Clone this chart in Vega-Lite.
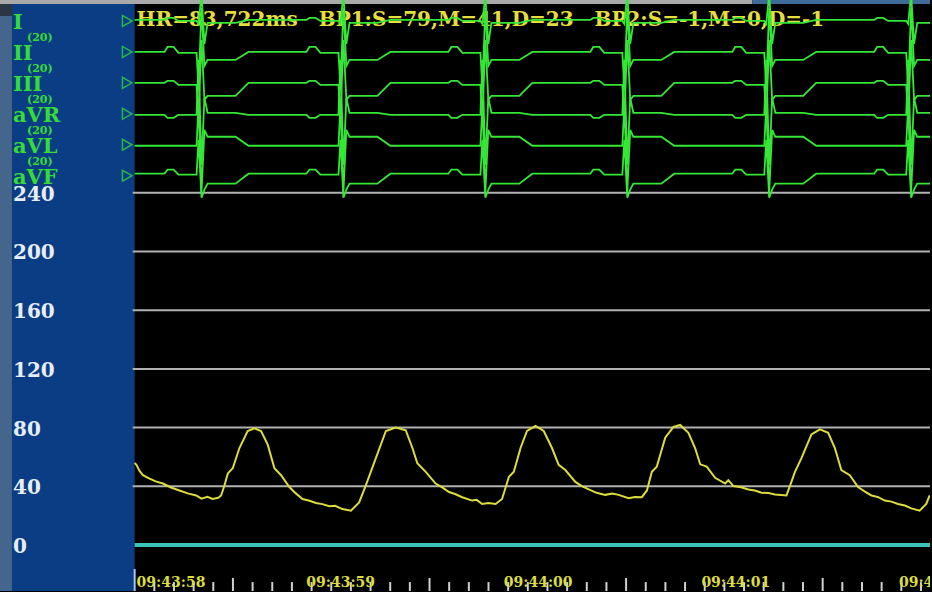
{
"$schema":"https://vega.github.io/schema/vega-lite/v6.json",
"width":932,"height":592,
"autosize":{"type":"fit","contains":"padding"},
"padding":0,
"background":"#000000",
"config":{"view":{"stroke":null},"axis":{"disable":true}},
"datasets":{
"ecg":[
{"t":0,"I":0.05,"II":0,"III":0,"aVR":-0.05,"aVL":-0.05,"aVF":0.1},
{"t":152,"I":0.05,"II":0,"III":0,"aVR":-0.05,"aVL":-0.05,"aVF":0.1},
{"t":167,"I":0.15,"II":0.25,"III":0.1,"aVR":-0.2,"aVL":-0.05,"aVF":0.3},
{"t":198,"I":0.15,"II":0.25,"III":0.1,"aVR":-0.2,"aVL":-0.05,"aVF":0.3},
{"t":223,"I":0,"II":-0.05,"III":-0.1,"aVR":-0.05,"aVL":-0.05,"aVF":0.05},
{"t":315,"I":0,"II":-0.05,"III":-0.1,"aVR":-0.05,"aVL":-0.05,"aVF":0.05},
{"t":325,"I":-0.15,"II":-1.8,"III":-1.75,"aVR":2.7,"aVL":2,"aVF":1.8},
{"t":340,"I":1.35,"II":2.2,"III":2.15,"aVR":-2.55,"aVL":-2.35,"aVF":-1.1},
{"t":355,"I":-1.15,"II":-0.7,"III":-0.85,"aVR":0.8,"aVL":0.75,"aVF":-0.7},
{"t":371,"I":-0.1,"II":-0.4,"III":-0.65,"aVR":0.05,"aVL":0.4,"aVF":-0.4},
{"t":513,"I":-0.1,"II":-0.4,"III":-0.65,"aVR":0.05,"aVL":0.4,"aVF":-0.4},
{"t":579,"I":0.05,"II":0,"III":0,"aVR":-0.05,"aVL":-0.05,"aVF":0.1},
{"t":874,"I":0.05,"II":0,"III":0,"aVR":-0.05,"aVL":-0.05,"aVF":0.1},
{"t":889,"I":0.15,"II":0.25,"III":0.1,"aVR":-0.2,"aVL":-0.05,"aVF":0.3},
{"t":920,"I":0.15,"II":0.25,"III":0.1,"aVR":-0.2,"aVL":-0.05,"aVF":0.3},
{"t":945,"I":0,"II":-0.05,"III":-0.1,"aVR":-0.05,"aVL":-0.05,"aVF":0.05},
{"t":1037,"I":0,"II":-0.05,"III":-0.1,"aVR":-0.05,"aVL":-0.05,"aVF":0.05},
{"t":1047,"I":-0.15,"II":-1.8,"III":-1.75,"aVR":2.7,"aVL":2,"aVF":1.8},
{"t":1062,"I":1.35,"II":2.2,"III":2.15,"aVR":-2.55,"aVL":-2.35,"aVF":-1.1},
{"t":1077,"I":-1.15,"II":-0.7,"III":-0.85,"aVR":0.8,"aVL":0.75,"aVF":-0.7},
{"t":1093,"I":-0.1,"II":-0.4,"III":-0.65,"aVR":0.05,"aVL":0.4,"aVF":-0.4},
{"t":1235,"I":-0.1,"II":-0.4,"III":-0.65,"aVR":0.05,"aVL":0.4,"aVF":-0.4},
{"t":1301,"I":0.05,"II":0,"III":0,"aVR":-0.05,"aVL":-0.05,"aVF":0.1},
{"t":1596,"I":0.05,"II":0,"III":0,"aVR":-0.05,"aVL":-0.05,"aVF":0.1},
{"t":1611,"I":0.15,"II":0.25,"III":0.1,"aVR":-0.2,"aVL":-0.05,"aVF":0.3},
{"t":1642,"I":0.15,"II":0.25,"III":0.1,"aVR":-0.2,"aVL":-0.05,"aVF":0.3},
{"t":1667,"I":0,"II":-0.05,"III":-0.1,"aVR":-0.05,"aVL":-0.05,"aVF":0.05},
{"t":1759,"I":0,"II":-0.05,"III":-0.1,"aVR":-0.05,"aVL":-0.05,"aVF":0.05},
{"t":1769,"I":-0.15,"II":-1.8,"III":-1.75,"aVR":2.7,"aVL":2,"aVF":1.8},
{"t":1784,"I":1.35,"II":2.2,"III":2.15,"aVR":-2.55,"aVL":-2.35,"aVF":-1.1},
{"t":1799,"I":-1.15,"II":-0.7,"III":-0.85,"aVR":0.8,"aVL":0.75,"aVF":-0.7},
{"t":1815,"I":-0.1,"II":-0.4,"III":-0.65,"aVR":0.05,"aVL":0.4,"aVF":-0.4},
{"t":1957,"I":-0.1,"II":-0.4,"III":-0.65,"aVR":0.05,"aVL":0.4,"aVF":-0.4},
{"t":2023,"I":0.05,"II":0,"III":0,"aVR":-0.05,"aVL":-0.05,"aVF":0.1},
{"t":2318,"I":0.05,"II":0,"III":0,"aVR":-0.05,"aVL":-0.05,"aVF":0.1},
{"t":2333,"I":0.15,"II":0.25,"III":0.1,"aVR":-0.2,"aVL":-0.05,"aVF":0.3},
{"t":2364,"I":0.15,"II":0.25,"III":0.1,"aVR":-0.2,"aVL":-0.05,"aVF":0.3},
{"t":2389,"I":0,"II":-0.05,"III":-0.1,"aVR":-0.05,"aVL":-0.05,"aVF":0.05},
{"t":2481,"I":0,"II":-0.05,"III":-0.1,"aVR":-0.05,"aVL":-0.05,"aVF":0.05},
{"t":2491,"I":-0.15,"II":-1.8,"III":-1.75,"aVR":2.7,"aVL":2,"aVF":1.8},
{"t":2506,"I":1.35,"II":2.2,"III":2.15,"aVR":-2.55,"aVL":-2.35,"aVF":-1.1},
{"t":2521,"I":-1.15,"II":-0.7,"III":-0.85,"aVR":0.8,"aVL":0.75,"aVF":-0.7},
{"t":2537,"I":-0.1,"II":-0.4,"III":-0.65,"aVR":0.05,"aVL":0.4,"aVF":-0.4},
{"t":2679,"I":-0.1,"II":-0.4,"III":-0.65,"aVR":0.05,"aVL":0.4,"aVF":-0.4},
{"t":2745,"I":0.05,"II":0,"III":0,"aVR":-0.05,"aVL":-0.05,"aVF":0.1},
{"t":3040,"I":0.05,"II":0,"III":0,"aVR":-0.05,"aVL":-0.05,"aVF":0.1},
{"t":3055,"I":0.15,"II":0.25,"III":0.1,"aVR":-0.2,"aVL":-0.05,"aVF":0.3},
{"t":3086,"I":0.15,"II":0.25,"III":0.1,"aVR":-0.2,"aVL":-0.05,"aVF":0.3},
{"t":3111,"I":0,"II":-0.05,"III":-0.1,"aVR":-0.05,"aVL":-0.05,"aVF":0.05},
{"t":3203,"I":0,"II":-0.05,"III":-0.1,"aVR":-0.05,"aVL":-0.05,"aVF":0.05},
{"t":3213,"I":-0.15,"II":-1.8,"III":-1.75,"aVR":2.7,"aVL":2,"aVF":1.8},
{"t":3228,"I":1.35,"II":2.2,"III":2.15,"aVR":-2.55,"aVL":-2.35,"aVF":-1.1},
{"t":3243,"I":-1.15,"II":-0.7,"III":-0.85,"aVR":0.8,"aVL":0.75,"aVF":-0.7},
{"t":3259,"I":-0.1,"II":-0.4,"III":-0.65,"aVR":0.05,"aVL":0.4,"aVF":-0.4},
{"t":3401,"I":-0.1,"II":-0.4,"III":-0.65,"aVR":0.05,"aVL":0.4,"aVF":-0.4},
{"t":3467,"I":0.05,"II":0,"III":0,"aVR":-0.05,"aVL":-0.05,"aVF":0.1},
{"t":3762,"I":0.05,"II":0,"III":0,"aVR":-0.05,"aVL":-0.05,"aVF":0.1},
{"t":3777,"I":0.15,"II":0.25,"III":0.1,"aVR":-0.2,"aVL":-0.05,"aVF":0.3},
{"t":3808,"I":0.15,"II":0.25,"III":0.1,"aVR":-0.2,"aVL":-0.05,"aVF":0.3},
{"t":3833,"I":0,"II":-0.05,"III":-0.1,"aVR":-0.05,"aVL":-0.05,"aVF":0.05},
{"t":3925,"I":0,"II":-0.05,"III":-0.1,"aVR":-0.05,"aVL":-0.05,"aVF":0.05},
{"t":3935,"I":-0.15,"II":-1.8,"III":-1.75,"aVR":2.7,"aVL":2,"aVF":1.8},
{"t":3950,"I":1.35,"II":2.2,"III":2.15,"aVR":-2.55,"aVL":-2.35,"aVF":-1.1},
{"t":3965,"I":-1.15,"II":-0.7,"III":-0.85,"aVR":0.8,"aVL":0.75,"aVF":-0.7},
{"t":3981,"I":-0.1,"II":-0.4,"III":-0.65,"aVR":0.05,"aVL":0.4,"aVF":-0.4},
{"t":4060,"I":-0.1,"II":-0.4,"III":-0.65,"aVR":0.05,"aVL":0.4,"aVF":-0.4}
],
"bp":[{"t":0,"p":56},{"t":9,"p":54.6},{"t":25,"p":50.5},{"t":42,"p":47.6},{"t":76,"p":45.3},{"t":110,"p":43.2},{"t":144,"p":41.9},{"t":185,"p":39.2},{"t":228,"p":37.2},{"t":270,"p":35.2},{"t":313,"p":33.8},{"t":340,"p":31.6},{"t":370,"p":32.8},{"t":397,"p":31.4},{"t":425,"p":32.2},{"t":440,"p":33.8},{"t":457,"p":40.7},{"t":474,"p":48.8},{"t":499,"p":52.3},{"t":533,"p":66.1},{"t":575,"p":77.7},{"t":609,"p":79.5},{"t":643,"p":77.7},{"t":677,"p":68.4},{"t":711,"p":52.3},{"t":745,"p":47.6},{"t":787,"p":39.5},{"t":820,"p":35.2},{"t":854,"p":31.4},{"t":890,"p":30.2},{"t":922,"p":28.7},{"t":955,"p":27.9},{"t":990,"p":26.4},{"t":1020,"p":26.8},{"t":1057,"p":24.5},{"t":1100,"p":23.4},{"t":1142,"p":29.1},{"t":1176,"p":40.7},{"t":1227,"p":59.2},{"t":1278,"p":77.7},{"t":1328,"p":80},{"t":1379,"p":78.2},{"t":1413,"p":66.1},{"t":1438,"p":55.7},{"t":1481,"p":49.9},{"t":1531,"p":41.9},{"t":1565,"p":39.3},{"t":1599,"p":36.1},{"t":1630,"p":34.8},{"t":1666,"p":32.6},{"t":1717,"p":30.3},{"t":1740,"p":30.8},{"t":1768,"p":28},{"t":1800,"p":28.6},{"t":1836,"p":28},{"t":1869,"p":31.4},{"t":1904,"p":46.5},{"t":1929,"p":49.9},{"t":1963,"p":66.1},{"t":1996,"p":77.7},{"t":2039,"p":81.2},{"t":2081,"p":77.7},{"t":2123,"p":66.1},{"t":2157,"p":54.6},{"t":2191,"p":51.1},{"t":2242,"p":43},{"t":2275,"p":40.1},{"t":2310,"p":37.9},{"t":2350,"p":35.6},{"t":2394,"p":34.2},{"t":2430,"p":35.1},{"t":2462,"p":34.2},{"t":2513,"p":31.9},{"t":2545,"p":32.8},{"t":2580,"p":32.6},{"t":2606,"p":37.2},{"t":2631,"p":49.9},{"t":2656,"p":53.4},{"t":2699,"p":73.1},{"t":2741,"p":80.5},{"t":2775,"p":81.8},{"t":2817,"p":76.5},{"t":2851,"p":66.1},{"t":2877,"p":55},{"t":2910,"p":53.4},{"t":2953,"p":45.8},{"t":3004,"p":41.9},{"t":3020,"p":44.2},{"t":3046,"p":40.2},{"t":3085,"p":39.4},{"t":3122,"p":37.9},{"t":3155,"p":37.2},{"t":3189,"p":35.6},{"t":3225,"p":35.4},{"t":3257,"p":34.5},{"t":3316,"p":33.8},{"t":3341,"p":43},{"t":3359,"p":49.9},{"t":3392,"p":59.2},{"t":3443,"p":75.4},{"t":3486,"p":78.8},{"t":3528,"p":76.5},{"t":3562,"p":66.1},{"t":3595,"p":51.1},{"t":3638,"p":47.6},{"t":3680,"p":39.5},{"t":3715,"p":36.4},{"t":3748,"p":33.8},{"t":3780,"p":32.8},{"t":3816,"p":30.3},{"t":3850,"p":29.6},{"t":3883,"p":28},{"t":3918,"p":26.9},{"t":3951,"p":25},{"t":3993,"p":23.4},{"t":4027,"p":28},{"t":4044,"p":33.8}],
"grid":[{"v":40},{"v":80},{"v":120},{"v":160},{"v":200},{"v":240}],
"ylab":[{"v":0},{"v":40},{"v":80},{"v":120},{"v":160},{"v":200},{"v":240}],
"ticks":[{"t":0,"kind":"start"},{"t":100,"kind":"minor"},{"t":200,"kind":"minor"},{"t":300,"kind":"minor"},{"t":400,"kind":"minor"},{"t":500,"kind":"major"},{"t":600,"kind":"minor"},{"t":700,"kind":"minor"},{"t":800,"kind":"minor"},{"t":900,"kind":"minor"},{"t":1000,"kind":"minor"},{"t":1100,"kind":"minor"},{"t":1200,"kind":"minor"},{"t":1300,"kind":"minor"},{"t":1400,"kind":"minor"},{"t":1500,"kind":"major"},{"t":1600,"kind":"minor"},{"t":1700,"kind":"minor"},{"t":1800,"kind":"minor"},{"t":1900,"kind":"minor"},{"t":2000,"kind":"minor"},{"t":2100,"kind":"minor"},{"t":2200,"kind":"minor"},{"t":2300,"kind":"minor"},{"t":2400,"kind":"minor"},{"t":2500,"kind":"major"},{"t":2600,"kind":"minor"},{"t":2700,"kind":"minor"},{"t":2800,"kind":"minor"},{"t":2900,"kind":"minor"},{"t":3000,"kind":"minor"},{"t":3100,"kind":"minor"},{"t":3200,"kind":"minor"},{"t":3300,"kind":"minor"},{"t":3400,"kind":"minor"},{"t":3500,"kind":"major"},{"t":3600,"kind":"minor"},{"t":3700,"kind":"minor"},{"t":3800,"kind":"minor"},{"t":3900,"kind":"minor"},{"t":4000,"kind":"minor"}],
"times":[{"t":10,"label":"09:43:58"},{"t":873,"label":"09:43:59"},{"t":1878,"label":"09:44:00"},{"t":2883,"label":"09:44:01"},{"t":3888,"label":"09:44:02"}]
},
"layer":[
{"layer":[
{"data":{"values":[{}]},"mark":{"type":"rect","color":"#44668c"},"encoding":{"x":{"datum":-685,"type":"quantitative","scale":{"domain":[-685,4046],"nice":false,"zero":false}},"x2":{"datum":-624}}},
{"data":{"values":[{}]},"mark":{"type":"rect","color":"#2c3542"},"encoding":{"x":{"datum":-685,"type":"quantitative"},"x2":{"datum":-624},"y":{"datum":360.35,"type":"quantitative","scale":{"domain":[-31.28,371.23],"nice":false,"zero":false}},"y2":{"datum":371.23}}},
{"data":{"values":[{}]},"mark":{"type":"rect","color":"#0b3d84"},"encoding":{"x":{"datum":-624,"type":"quantitative"},"x2":{"datum":0}}},
{"data":{"values":[{}]},"mark":{"type":"rect","color":"#a9a9a9"},"encoding":{"x":{"datum":-685,"type":"quantitative"},"x2":{"datum":3142},"y":{"datum":368.5,"type":"quantitative"},"y2":{"datum":371.23}}},
{"data":{"values":[{}]},"mark":{"type":"rect","color":"#3f6b98"},"encoding":{"x":{"datum":3142,"type":"quantitative"},"x2":{"datum":4046},"y":{"datum":368.5,"type":"quantitative"},"y2":{"datum":371.23}}},
{"data":{"name":"grid"},"mark":{"type":"rule","color":"#b2b2b2","strokeWidth":2},"encoding":{"x":{"datum":-10,"type":"quantitative"},"x2":{"datum":4046},"y":{"field":"v","type":"quantitative","axis":null,"scale":{"domain":[-31.28,371.23],"nice":false,"zero":false}}}},
{"data":{"values":[{}]},"mark":{"type":"rule","color":"#3cc4bb","strokeWidth":4},"encoding":{"x":{"datum":0,"type":"quantitative"},"x2":{"datum":4046},"y":{"datum":0,"type":"quantitative"}}},
{"data":{"name":"ylab"},"mark":{"type":"text","align":"left","baseline":"middle","dy":2,"font":"DejaVu Serif","fontWeight":"bold","fontSize":20,"color":"#e6edf7"},"encoding":{"x":{"datum":-619,"type":"quantitative"},"y":{"field":"v","type":"quantitative"},"text":{"field":"v","type":"quantitative"}}},
{"data":{"name":"bp"},"mark":{"type":"line","color":"#dcdc3a","strokeWidth":2,"clip":true},"encoding":{"x":{"field":"t","type":"quantitative","scale":{"domain":[-685,4046],"nice":false,"zero":false}},"y":{"field":"p","type":"quantitative","scale":{"domain":[-31.28,371.23],"nice":false,"zero":false}}}},
{"data":{"name":"ticks"},"transform":[{"filter":"datum.kind=='minor'"}],"mark":{"type":"rule","color":"#d0d0d0","strokeWidth":2},"encoding":{"x":{"field":"t","type":"quantitative"},"y":{"datum":-25.2,"type":"quantitative"},"y2":{"datum":-31.28}}},
{"data":{"name":"ticks"},"transform":[{"filter":"datum.kind=='major'"}],"mark":{"type":"rule","color":"#d0d0d0","strokeWidth":2},"encoding":{"x":{"field":"t","type":"quantitative"},"y":{"datum":-22.4,"type":"quantitative"},"y2":{"datum":-31.28}}},
{"data":{"name":"ticks"},"transform":[{"filter":"datum.kind=='start'"}],"mark":{"type":"rule","color":"#a8c4f0","strokeWidth":2},"encoding":{"x":{"field":"t","type":"quantitative"},"y":{"datum":-16.3,"type":"quantitative"},"y2":{"datum":-31.28}}},
{"data":{"name":"times"},"mark":{"type":"text","align":"left","baseline":"alphabetic","font":"DejaVu Serif","fontWeight":"bold","fontSize":14,"color":"#dcdc3c","clip":true},"encoding":{"x":{"field":"t","type":"quantitative"},"y":{"datum":-28.56,"type":"quantitative"},"text":{"field":"label","type":"nominal"}}},
{"data":{"values":[{}]},"mark":{"type":"text","align":"left","baseline":"alphabetic","font":"DejaVu Serif","fontWeight":"bold","fontSize":20,"color":"#e6de3c"},"encoding":{"x":{"datum":10,"type":"quantitative"},"y":{"datum":353.6,"type":"quantitative"},"text":{"value":"HR=83,722ms\u00a0\u00a0\u00a0BP1:S=79,M=41,D=23\u00a0\u00a0\u00a0BP2:S=-1,M=0,D=-1"}}}
]},
{"layer":[
{"layer":[
{"data":{"name":"ecg"},"mark":{"type":"line","color":"#35e835","strokeWidth":1.8,"clip":true},"encoding":{"x":{"field":"t","type":"quantitative"},"y":{"field":"I","type":"quantitative","axis":null,"scale":{"domain":[-28.55,1.05],"nice":false,"zero":false}}}},
{"data":{"values":[{}]},"mark":{"type":"point","shape":"triangle-right","filled":false,"color":"#35e835","strokeWidth":1.5,"size":120},"encoding":{"x":{"datum":-38,"type":"quantitative"},"y":{"datum":0,"type":"quantitative"}}},
{"data":{"values":[{}]},"mark":{"type":"text","align":"left","baseline":"middle","dy":2,"font":"DejaVu Serif","fontWeight":"bold","fontSize":21,"color":"#36dc36"},"encoding":{"x":{"datum":-619,"type":"quantitative"},"y":{"datum":0,"type":"quantitative"},"text":{"value":"I"}}},
{"data":{"values":[{}]},"mark":{"type":"text","align":"left","baseline":"middle","dy":17,"font":"DejaVu Serif","fontWeight":"bold","fontSize":11,"color":"#36dc36"},"encoding":{"x":{"datum":-548,"type":"quantitative"},"y":{"datum":0,"type":"quantitative"},"text":{"value":"(20)"}}}
]},
{"layer":[
{"data":{"name":"ecg"},"mark":{"type":"line","color":"#35e835","strokeWidth":1.8,"clip":true},"encoding":{"x":{"field":"t","type":"quantitative"},"y":{"field":"II","type":"quantitative","axis":null,"scale":{"domain":[-27,2.6],"nice":false,"zero":false}}}},
{"data":{"values":[{}]},"mark":{"type":"point","shape":"triangle-right","filled":false,"color":"#35e835","strokeWidth":1.5,"size":120},"encoding":{"x":{"datum":-38,"type":"quantitative"},"y":{"datum":0,"type":"quantitative"}}},
{"data":{"values":[{}]},"mark":{"type":"text","align":"left","baseline":"middle","dy":2,"font":"DejaVu Serif","fontWeight":"bold","fontSize":21,"color":"#36dc36"},"encoding":{"x":{"datum":-619,"type":"quantitative"},"y":{"datum":0,"type":"quantitative"},"text":{"value":"II"}}},
{"data":{"values":[{}]},"mark":{"type":"text","align":"left","baseline":"middle","dy":17,"font":"DejaVu Serif","fontWeight":"bold","fontSize":11,"color":"#36dc36"},"encoding":{"x":{"datum":-548,"type":"quantitative"},"y":{"datum":0,"type":"quantitative"},"text":{"value":"(20)"}}}
]},
{"layer":[
{"data":{"name":"ecg"},"mark":{"type":"line","color":"#35e835","strokeWidth":1.8,"clip":true},"encoding":{"x":{"field":"t","type":"quantitative"},"y":{"field":"III","type":"quantitative","axis":null,"scale":{"domain":[-25.45,4.15],"nice":false,"zero":false}}}},
{"data":{"values":[{}]},"mark":{"type":"point","shape":"triangle-right","filled":false,"color":"#35e835","strokeWidth":1.5,"size":120},"encoding":{"x":{"datum":-38,"type":"quantitative"},"y":{"datum":0,"type":"quantitative"}}},
{"data":{"values":[{}]},"mark":{"type":"text","align":"left","baseline":"middle","dy":2,"font":"DejaVu Serif","fontWeight":"bold","fontSize":21,"color":"#36dc36"},"encoding":{"x":{"datum":-619,"type":"quantitative"},"y":{"datum":0,"type":"quantitative"},"text":{"value":"III"}}},
{"data":{"values":[{}]},"mark":{"type":"text","align":"left","baseline":"middle","dy":17,"font":"DejaVu Serif","fontWeight":"bold","fontSize":11,"color":"#36dc36"},"encoding":{"x":{"datum":-548,"type":"quantitative"},"y":{"datum":0,"type":"quantitative"},"text":{"value":"(20)"}}}
]},
{"layer":[
{"data":{"name":"ecg"},"mark":{"type":"line","color":"#35e835","strokeWidth":1.8,"clip":true},"encoding":{"x":{"field":"t","type":"quantitative"},"y":{"field":"aVR","type":"quantitative","axis":null,"scale":{"domain":[-23.9,5.7],"nice":false,"zero":false}}}},
{"data":{"values":[{}]},"mark":{"type":"point","shape":"triangle-right","filled":false,"color":"#35e835","strokeWidth":1.5,"size":120},"encoding":{"x":{"datum":-38,"type":"quantitative"},"y":{"datum":0,"type":"quantitative"}}},
{"data":{"values":[{}]},"mark":{"type":"text","align":"left","baseline":"middle","dy":2,"font":"DejaVu Serif","fontWeight":"bold","fontSize":21,"color":"#36dc36"},"encoding":{"x":{"datum":-619,"type":"quantitative"},"y":{"datum":0,"type":"quantitative"},"text":{"value":"aVR"}}},
{"data":{"values":[{}]},"mark":{"type":"text","align":"left","baseline":"middle","dy":17,"font":"DejaVu Serif","fontWeight":"bold","fontSize":11,"color":"#36dc36"},"encoding":{"x":{"datum":-548,"type":"quantitative"},"y":{"datum":0,"type":"quantitative"},"text":{"value":"(20)"}}}
]},
{"layer":[
{"data":{"name":"ecg"},"mark":{"type":"line","color":"#35e835","strokeWidth":1.8,"clip":true},"encoding":{"x":{"field":"t","type":"quantitative"},"y":{"field":"aVL","type":"quantitative","axis":null,"scale":{"domain":[-22.35,7.25],"nice":false,"zero":false}}}},
{"data":{"values":[{}]},"mark":{"type":"point","shape":"triangle-right","filled":false,"color":"#35e835","strokeWidth":1.5,"size":120},"encoding":{"x":{"datum":-38,"type":"quantitative"},"y":{"datum":0,"type":"quantitative"}}},
{"data":{"values":[{}]},"mark":{"type":"text","align":"left","baseline":"middle","dy":2,"font":"DejaVu Serif","fontWeight":"bold","fontSize":21,"color":"#36dc36"},"encoding":{"x":{"datum":-619,"type":"quantitative"},"y":{"datum":0,"type":"quantitative"},"text":{"value":"aVL"}}},
{"data":{"values":[{}]},"mark":{"type":"text","align":"left","baseline":"middle","dy":17,"font":"DejaVu Serif","fontWeight":"bold","fontSize":11,"color":"#36dc36"},"encoding":{"x":{"datum":-548,"type":"quantitative"},"y":{"datum":0,"type":"quantitative"},"text":{"value":"(20)"}}}
]},
{"layer":[
{"data":{"name":"ecg"},"mark":{"type":"line","color":"#35e835","strokeWidth":1.8,"clip":true},"encoding":{"x":{"field":"t","type":"quantitative"},"y":{"field":"aVF","type":"quantitative","axis":null,"scale":{"domain":[-20.8,8.8],"nice":false,"zero":false}}}},
{"data":{"values":[{}]},"mark":{"type":"point","shape":"triangle-right","filled":false,"color":"#35e835","strokeWidth":1.5,"size":120},"encoding":{"x":{"datum":-38,"type":"quantitative"},"y":{"datum":0,"type":"quantitative"}}},
{"data":{"values":[{}]},"mark":{"type":"text","align":"left","baseline":"middle","dy":2,"font":"DejaVu Serif","fontWeight":"bold","fontSize":21,"color":"#36dc36"},"encoding":{"x":{"datum":-619,"type":"quantitative"},"y":{"datum":0,"type":"quantitative"},"text":{"value":"aVF"}}}
]}
],"resolve":{"scale":{"y":"independent"}}}
],
"resolve":{"scale":{"y":"independent"}}
}
